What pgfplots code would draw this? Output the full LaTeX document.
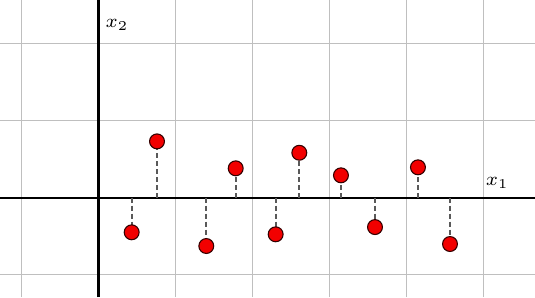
\documentclass[border=0pt]{standalone}
\usepackage{pgfplots}
\pgfplotsset{compat=1.18}
\begin{document}
\begin{tikzpicture}
\pgfplotstableread{
x y
0.431 -0.449
0.760 0.732
1.400 -0.627
1.782 0.382
2.301 -0.475
2.608 0.584
3.149 0.291
3.591 -0.381
4.149 0.395
4.565 -0.601
}\pts
\begin{axis}[
  x=1cm, y=1cm,
  axis lines=middle,
  axis line style={black, line width=0.75pt, -},
  xmin=-1.279, xmax=5.669, ymin=-1.290, ymax=2.568,
  xtick={-1,0,...,5}, ytick={-1,0,1,2},
  xticklabels={}, yticklabels={},
  major tick length=0pt,
  grid=major,
  major grid style={draw=black!25, line width=0.4pt},
  clip=false,
]
\addplot[ycomb, draw=black!65, line width=0.75pt, dash pattern=on 1.8pt off 1.15pt, no marks] table[x=x,y=y] {\pts};
\addplot[only marks, mark=*, mark size=2.75pt, mark options={fill=red!95!black, draw=black!80!red, line width=0.4pt}] table[x=x,y=y] {\pts};
\node[font=\scriptsize, anchor=center] at (axis cs:5.18,0.19) {$x_1$};
\node[font=\scriptsize, anchor=center] at (axis cs:0.24,2.24) {$x_2$};
\end{axis}
\pgfresetboundingbox
\path (current axis.south west) rectangle (current axis.north east);
\end{tikzpicture}
\end{document}
